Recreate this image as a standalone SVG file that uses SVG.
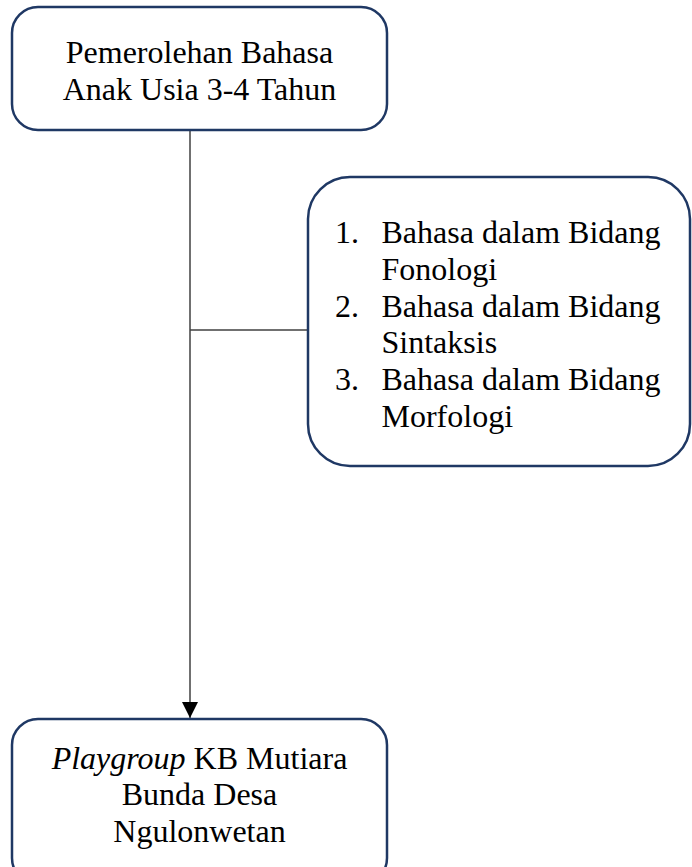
<svg xmlns="http://www.w3.org/2000/svg" width="692" height="867" viewBox="0 0 692 867">
<style>
.box{fill:#ffffff;stroke:#1f3864;stroke-width:2.5}
.t{font-family:"Liberation Serif","Times New Roman",serif;font-size:32px;fill:#000}
.c{stroke:#404040;stroke-width:1.5;fill:none}
</style>
<defs>
<marker id="ah" markerWidth="16" markerHeight="16" refX="16" refY="8" orient="auto" markerUnits="userSpaceOnUse">
<path d="M0,0 L16,8 L0,16 Z" fill="#000"/>
</marker>
</defs>
<rect width="692" height="867" fill="#ffffff"/>
<g id="connectors">
<line class="c" x1="190" y1="130" x2="190" y2="718" marker-end="url(#ah)"/>
<line class="c" x1="190" y1="330" x2="308" y2="330"/>
</g>
<g id="node-top">
<rect class="box" x="12" y="7" width="375" height="123" rx="26" ry="26"/>
<text class="t" x="199.5" y="63" text-anchor="middle">Pemerolehan Bahasa</text>
<text class="t" x="199.5" y="100" text-anchor="middle">Anak Usia 3-4 Tahun</text>
</g>
<g id="node-list">
<rect class="box" x="308" y="177" width="382" height="289" rx="42" ry="42"/>
<text class="t" x="335" y="243">1.</text>
<text class="t" x="381.5" y="243">Bahasa dalam Bidang</text>
<text class="t" x="381.5" y="280">Fonologi</text>
<text class="t" x="335" y="317">2.</text>
<text class="t" x="381.5" y="317">Bahasa dalam Bidang</text>
<text class="t" x="381.5" y="353">Sintaksis</text>
<text class="t" x="335" y="390">3.</text>
<text class="t" x="381.5" y="390">Bahasa dalam Bidang</text>
<text class="t" x="381.5" y="427">Morfologi</text>
</g>
<g id="node-bottom">
<rect class="box" x="12" y="719" width="375" height="165" rx="26" ry="26"/>
<text class="t" x="199.5" y="769" text-anchor="middle"><tspan font-style="italic">Playgroup</tspan> KB Mutiara</text>
<text class="t" x="199.5" y="805" text-anchor="middle">Bunda Desa</text>
<text class="t" x="199.5" y="842" text-anchor="middle">Ngulonwetan</text>
</g>
</svg>
